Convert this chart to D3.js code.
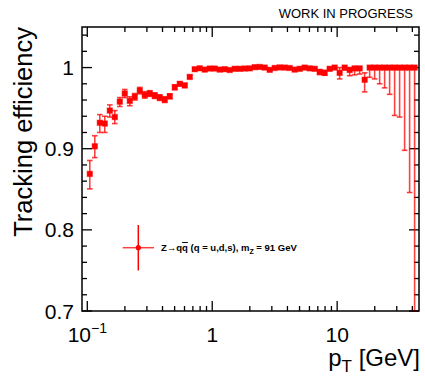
<!DOCTYPE html>
<html><head><meta charset="utf-8">
<script src="https://cdn.jsdelivr.net/npm/d3@7"></script>
<style>
body{margin:0;background:#fff;}
svg text{font-family:"Liberation Sans",Arial,Helvetica,sans-serif;fill:#000;}
</style></head><body>
<svg id="c" width="425" height="377"></svg>
<script>
// bin centres in pT [GeV]
const pT = [0.1047,0.1148,0.1259,0.1380,0.1514,0.1660,0.1820,0.1995,0.2188,0.2399,
 0.2630,0.2884,0.3162,0.3467,0.3802,0.4169,0.4571,0.5012,0.5495,0.6026,
 0.6607,0.7244,0.7943,0.8710,0.9550,1.047,1.148,1.259,1.380,1.514,
 1.660,1.820,1.995,2.188,2.399,2.630,2.884,3.162,3.467,3.802,
 4.169,4.571,5.012,5.495,6.026,6.607,7.244,7.943,8.710,9.550,
 10.47,11.48,12.59,13.80,15.14,16.60,18.20,19.95,21.88,23.99,
 26.30,28.84,31.62,34.67,38.02,41.69];
const eff = [0.869,0.903,0.932,0.931,0.947,0.939,0.958,0.968,0.959,0.964,
 0.9716,0.9663,0.968,0.9654,0.963,0.9605,0.9646,0.9757,0.980,0.978,
 0.9885,0.998,0.9991,0.9975,0.9988,0.9988,0.9975,0.998,0.997,0.9985,
 0.9985,0.9988,0.999,1.0005,1.0008,1.0,0.9972,0.9995,1.0002,1.0,
 0.9995,0.9975,0.9985,1.0,0.999,0.9985,0.9945,0.9935,0.9985,1.0,
 0.9935,1.0,0.997,0.999,0.999,0.985,1.0,1.0,1.0,1.0,
 1.0,1.0,1.0,1.0,1.0,1.0];
const errLow = [0.0185,0.014,0.012,0.011,0.008,0.008,0.006,0.005,0.006,0.004,
 0.004,0.004,0.0035,0.0035,0.0035,0.0035,0.003,0.003,0.0025,0.0025,
 0.002,0.0015,0.0015,0.0015,0.0015,0.0015,0.0015,0.0015,0.0015,0.0015,
 0.0015,0.0015,0.0015,0.0015,0.0015,0.0015,0.0015,0.0015,0.0015,0.0015,
 0.0015,0.0015,0.0015,0.0015,0.0015,0.0015,0.003,0.003,0.002,0.002,
 0.0075,0.003,0.007,0.008,0.007,0.015,0.012,0.014,0.020,0.025,
 0.033,0.059,0.061,0.102,0.154,0.30];
const errHigh = [0.0165,0.013,0.010,0.009,0.007,0.008,0.005,0.005,0.005,0.004,
 0.004,0.004,0.0035,0.0035,0.0035,0.0035,0.003,0.003,0.0025,0.0025,
 0.002,0.0015,0.0009,0.0015,0.0012,0.0012,0.0015,0.0015,0.0015,0.0015,
 0.0015,0.0012,0.001,0.0005,0.0005,0.0005,0.0015,0.0005,0.0005,0.0005,
 0.0005,0.0015,0.0015,0.0005,0.001,0.0015,0.003,0.003,0.0015,0,
 0.0065,0,0.003,0.001,0.001,0.0085,0,0,0,0,
 0,0,0,0,0,0];
const xMajor = [0.1, 1, 10];
const xMinor = [0.2,0.3,0.4,0.5,0.6,0.7,0.8,0.9,2,3,4,5,6,7,8,9,20,30,40];
const yMajor = [0.7, 0.8, 0.9, 1.0];
const yMinor = [0.72,0.74,0.76,0.78,0.82,0.84,0.86,0.88,0.92,0.94,0.96,0.98,1.02,1.04];
const yTickLabels = ["0.7","0.8","0.9","1"];
const xTitle = "p", xTitleSub = "T", xTitleRest = " [GeV]";
const yTitle = "Tracking efficiency";
const banner = "WORK IN PROGRESS";

const svg = d3.select("#c");
svg.append("rect").attr("width",425).attr("height",377).attr("fill","#fff");
const L=82,R=419,T=27,B=311;
const x = d3.scaleLog().domain([0.0907,45.2]).range([L,R]);
const y = d3.scaleLinear().domain([0.7,1.05]).range([B,T]);

svg.append("defs").append("clipPath").attr("id","clip")
  .append("rect").attr("x",L).attr("y",T).attr("width",R-L).attr("height",B-T+1);

// ROOT-style ticks on all four sides
const majLen=10, minLen=5;
const g = svg.append("g");
function ticksX(vals,len){
  vals.forEach(v=>{
    g.append("line").attr("x1",x(v)).attr("x2",x(v)).attr("y1",B).attr("y2",B-len).attr("stroke","#000").attr("stroke-width",1.3);
    g.append("line").attr("x1",x(v)).attr("x2",x(v)).attr("y1",T).attr("y2",T+len).attr("stroke","#000").attr("stroke-width",1.3);
  });
}
function ticksY(vals,len){
  vals.forEach(v=>{
    g.append("line").attr("y1",y(v)).attr("y2",y(v)).attr("x1",L).attr("x2",L+len).attr("stroke","#000").attr("stroke-width",1.3);
    g.append("line").attr("y1",y(v)).attr("y2",y(v)).attr("x1",R).attr("x2",R-len).attr("stroke","#000").attr("stroke-width",1.3);
  });
}
ticksX(xMajor,majLen); ticksX(xMinor,minLen);
ticksY(yMajor,majLen); ticksY(yMinor,minLen);

// tick labels
yMajor.forEach((v,i)=>{
  svg.append("text").attr("x",74).attr("y",y(v)).attr("dy","0.36em")
   .attr("text-anchor","end").attr("font-size",21).text(yTickLabels[i]);
});
xMajor.forEach((v)=>{
  const e = Math.round(Math.log10(v));
  const t = svg.append("text").attr("y",342).attr("font-size",21).attr("text-anchor","middle").attr("x",x(v));
  if(e===0) t.text("1");
  else if(e===1) t.text("10");
  else { t.append("tspan").text("10"); t.append("tspan").attr("font-size",14).attr("dy",-9).text("\u2212" + Math.abs(e)); }
});

// data
const pts = pT.map((p,i)=>({p, e:eff[i], lo:errLow[i], hi:errHigh[i]}));
const dg = svg.append("g").attr("clip-path","url(#clip)");
const col="#ff0000";
pts.forEach(d=>{
  const cx=x(d.p), y0=y(d.e-d.lo), y1=y(d.e+d.hi);
  dg.append("line").attr("x1",cx).attr("x2",cx).attr("y1",y0).attr("y2",y1).attr("stroke",col).attr("stroke-opacity",0.75).attr("stroke-width",1.6);
  if(d.lo>0) dg.append("line").attr("x1",cx-2.8).attr("x2",cx+2.8).attr("y1",y0).attr("y2",y0).attr("stroke",col).attr("stroke-opacity",0.75).attr("stroke-width",1.6);
  if(d.hi>0) dg.append("line").attr("x1",cx-2.8).attr("x2",cx+2.8).attr("y1",y1).attr("y2",y1).attr("stroke",col).attr("stroke-opacity",0.75).attr("stroke-width",1.6);
});
dg.selectAll("rect.m").data(pts).enter().append("rect")
  .attr("x",d=>x(d.p)-2.7).attr("y",d=>y(d.e)-2.7).attr("width",5.4).attr("height",5.4)
  .attr("fill",col).attr("stroke",col).attr("stroke-opacity",0.45).attr("stroke-width",1);

// frame
svg.append("rect").attr("x",L).attr("y",T).attr("width",R-L).attr("height",B-T)
  .attr("fill","none").attr("stroke","#000").attr("stroke-width",1.5);

// legend
const lx=138.3, ly=247.7;
svg.append("line").attr("x1",lx).attr("x2",lx).attr("y1",225).attr("y2",270.5).attr("stroke",col).attr("stroke-width",1.5);
svg.append("line").attr("x1",122.7).attr("x2",154).attr("y1",ly).attr("y2",ly).attr("stroke",col).attr("stroke-opacity",0.75).attr("stroke-width",1.5);
svg.append("circle").attr("cx",lx).attr("cy",ly).attr("r",2.6).attr("fill",col);
const lt = svg.append("text").attr("x",161).attr("y",251).attr("font-size",9.5).attr("font-weight","bold");
lt.append("tspan").text("Z\u2192q");
lt.append("tspan").style("text-decoration","overline").text("q");
lt.append("tspan").text(" (q = u,d,s), m");
lt.append("tspan").attr("font-size",7).attr("dy",3).text("Z");
lt.append("tspan").attr("dy",-3).text(" = 91 GeV");

// titles
const xt = svg.append("text").attr("x",420).attr("y",366).attr("text-anchor","end").attr("font-size",24);
xt.append("tspan").text(xTitle);
xt.append("tspan").attr("font-size",17).attr("dy",6).text(xTitleSub);
xt.append("tspan").attr("dy",-6).text(xTitleRest);

svg.append("text").attr("transform","translate(32,27) rotate(-90)").attr("text-anchor","end")
  .attr("font-size",25.5).text(yTitle);

svg.append("text").attr("x",413).attr("y",18).attr("text-anchor","end").attr("font-size",13).text(banner);
</script>
</body></html>
